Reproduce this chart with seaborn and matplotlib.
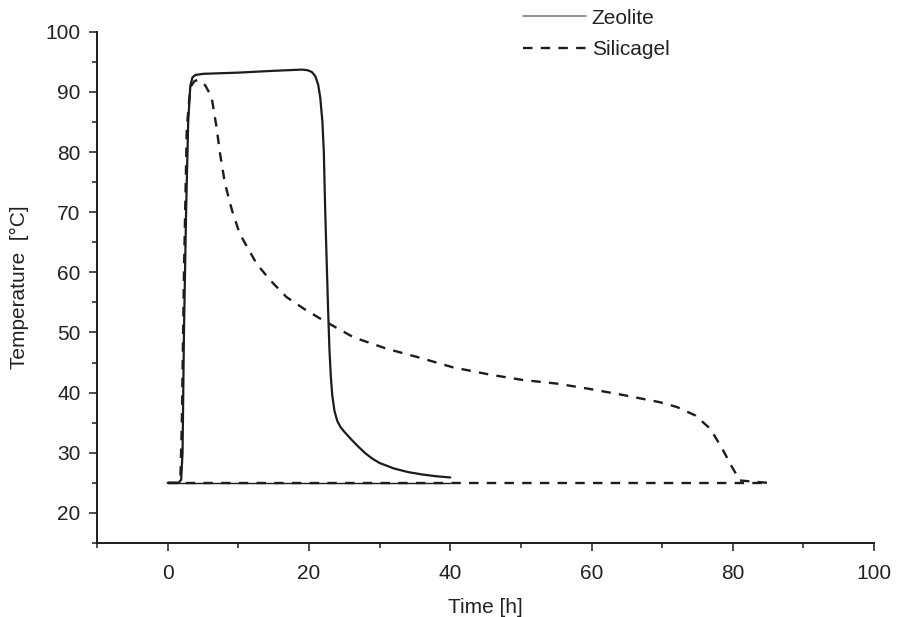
import seaborn as sns
import matplotlib.pyplot as plt
import matplotlib.ticker as mticker
from matplotlib.lines import Line2D

# Zeolite curve
zeo_t = [0, 1.5, 1.9, 2.1, 2.3, 2.6, 2.9, 3.2, 3.5, 3.9, 5, 10, 15, 19, 19.8, 20.4, 20.9,
         21.3, 21.6, 21.9, 22.1, 22.3, 22.5, 22.7, 22.9, 23.1, 23.3, 23.6, 24.0, 24.5,
         25, 26, 27, 28, 29, 30, 32, 34, 36, 38, 40]
zeo_T = [25, 25, 25.5, 30, 50, 70, 85, 91, 92.4, 92.8, 93.0, 93.2, 93.5, 93.7, 93.6, 93.3, 92.6,
         91.2, 89, 85, 80, 70, 62, 54, 47, 42.5, 39.5, 37, 35.3, 34.2,
         33.5, 32.2, 31.0, 29.9, 29.0, 28.3, 27.4, 26.8, 26.4, 26.1, 25.9]
zeo_base_t = [0, 40]
zeo_base_T = [25, 25]

# Silicagel curve
sil_t = [0, 1.4, 1.8, 2.0, 2.3, 2.7, 3.2, 3.8, 4.3, 5.3, 6.2, 6.9, 7.4, 8.1, 9.1, 10.2,
         12.6, 14.5, 16.8, 19.2, 21.6, 26.3, 31.0, 35.7, 40.4, 45.6, 50.3, 55.1, 59.8,
         64.5, 69.7, 72.1, 74.7, 76.8, 78.4, 79.9, 81.0, 85]
sil_T = [25, 25, 26, 35, 60, 84, 90.8, 91.8, 92, 91.1, 89.2, 84.2, 79.8, 74.8, 70.3, 66.4,
         61.4, 58.7, 55.9, 54.0, 52.3, 49.2, 47.3, 45.8, 44.2, 43.0, 42.1, 41.5, 40.6,
         39.6, 38.4, 37.6, 36.2, 34.0, 30.9, 27.6, 25.4, 25]
sil_base_t = [0, 85]
sil_base_T = [25, 25]

sns.set_style("ticks")
plt.rcParams['font.family'] = ['Liberation Sans', 'DejaVu Sans']
plt.rcParams['font.size'] = 15

ink = "#1c1c1c"
dash = (0, (4, 3.5))

fig = plt.figure(figsize=(8.98, 6.17), dpi=100)
ax = fig.add_axes([0.1081, 0.1199, 0.8653, 0.8287])

sns.lineplot(x=zeo_t, y=zeo_T, sort=False, ax=ax, color=ink, lw=1.6, estimator=None)
sns.lineplot(x=zeo_base_t, y=zeo_base_T, sort=False, ax=ax, color=ink, lw=1.0, estimator=None)
sns.lineplot(x=sil_t, y=sil_T, sort=False, ax=ax, color=ink, lw=1.7, estimator=None,
             linestyle=dash)
sns.lineplot(x=sil_base_t, y=sil_base_T, sort=False, ax=ax, color=ink, lw=1.7, estimator=None,
             linestyle=dash)

ax.set_xlim(-10, 100)
ax.set_ylim(15, 100)
ax.xaxis.set_major_locator(mticker.FixedLocator([0, 20, 40, 60, 80, 100]))
ax.xaxis.set_minor_locator(mticker.FixedLocator([-10, 10, 30, 50, 70, 90]))
ax.yaxis.set_major_locator(mticker.MultipleLocator(10))
ax.yaxis.set_minor_locator(mticker.FixedLocator([15, 25, 35, 45, 55, 65, 75, 85, 95]))

for s in ['top', 'right']:
    ax.spines[s].set_visible(False)
for s in ['left', 'bottom']:
    ax.spines[s].set_linewidth(1.4)
    ax.spines[s].set_color(ink)
ax.tick_params(which='major', direction='out', length=6, width=1.1, color=ink,
               labelsize=15, labelcolor="#222222")
ax.tick_params(axis='x', which='major', pad=9)
ax.tick_params(axis='y', which='major', pad=6)
ax.tick_params(which='minor', direction='out', length=3.5, width=1.1, color=ink)

ax.set_xlabel("Time [h]", fontsize=15, color="#222222", labelpad=11)
ax.set_ylabel("Temperature  [°C]", fontsize=15, color="#222222", labelpad=12)

handles = [Line2D([], [], color="#808080", lw=1.2),
           Line2D([], [], color=ink, lw=1.7, linestyle=dash)]
fig.legend(handles, ["Zeolite", "Silicagel"], loc='upper left',
           bbox_to_anchor=(523 / 898, 0.986), frameon=False, borderpad=0,
           borderaxespad=0, handlelength=3.0, handletextpad=0.3, labelspacing=0.6,
           fontsize=15, labelcolor="#222222")

fig.savefig("out.png", dpi=100)
